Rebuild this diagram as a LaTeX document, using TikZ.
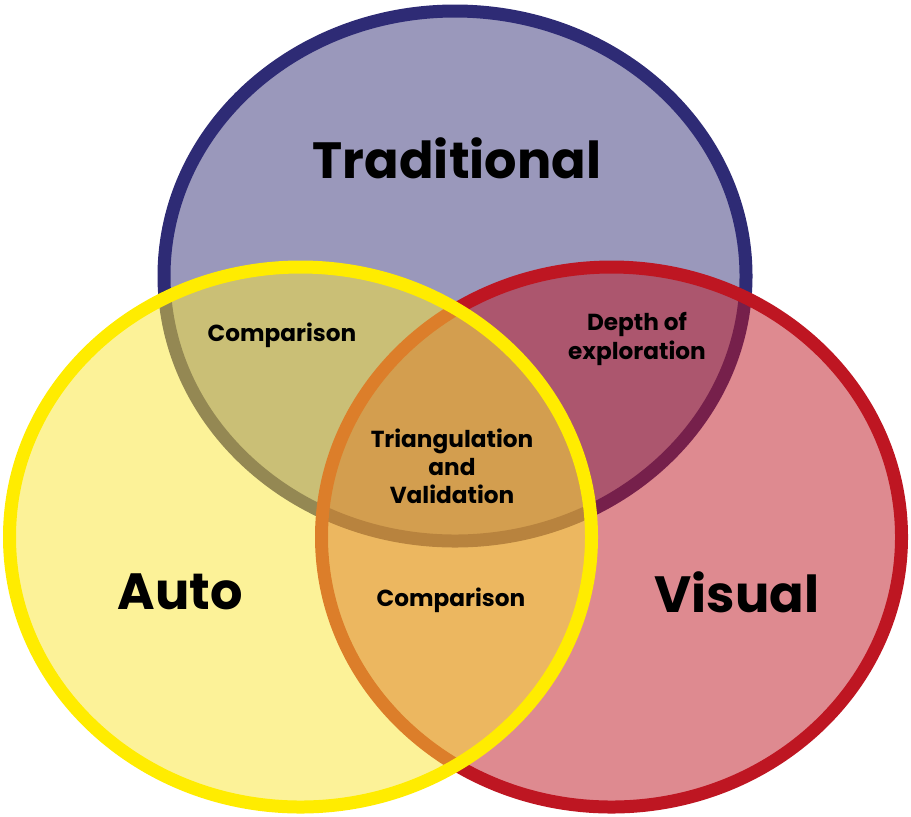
\documentclass[tikz,border=0pt]{standalone}
\usepackage{fontspec}
\setmainfont{Poppins}
\usepackage{tikz}

\definecolor{tradLine}{HTML}{2E2B75}
\definecolor{tradFill}{HTML}{9A98BB}
\definecolor{visLine}{HTML}{BE1622}
\definecolor{autoLine}{HTML}{FFEC00}
\definecolor{autoFill}{RGB}{250,230,50}

\begin{document}
\begin{tikzpicture}[
  x=0.02cm, y=-0.02cm,
  setline/.style={line width=0.26cm},
  bigword/.style={font=\fontsize{29}{32}\selectfont\bfseries, inner sep=0pt},
  smallword/.style={font=\fontsize{13.2}{16}\selectfont\bfseries, align=center, inner sep=0pt}
]
  \useasboundingbox (0,0) rectangle (911,816);

  \filldraw[setline, draw=tradLine, fill=tradFill]
    (455,276) ellipse [x radius=291, y radius=265];
  \fill[visLine, fill opacity=0.5] (611.5,537) ellipse [x radius=290, y radius=270];
  \draw[setline, visLine] (611.5,537) ellipse [x radius=290, y radius=270];
  \fill[autoFill, fill opacity=0.5] (300.5,537) ellipse [x radius=291, y radius=270];
  \draw[setline, autoLine] (300.5,537) ellipse [x radius=291, y radius=270];

  \node[bigword] (trad) at (457,158) {Traditional};
  \node[bigword] (auto) at (180,592) {Auto};
  \node[bigword] (vis) at (737,592) {Visual};

  \node[smallword] (cmpTA) at (282,335) {Comparison};
  \node[smallword] (depthTV) at (637,339) {Depth of\\exploration};
  \node[smallword] (tri) at (452,466) {Triangulation\\and\\Validation};
  \node[smallword] (cmpAV) at (451,600) {Comparison};
\end{tikzpicture}
\end{document}
